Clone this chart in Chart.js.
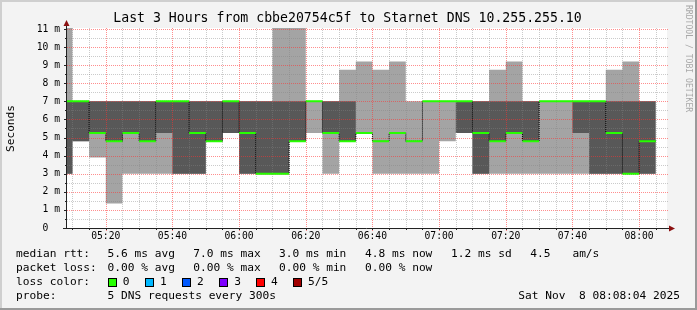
<!DOCTYPE html>
<html><head><meta charset="utf-8">
<script src="https://cdn.jsdelivr.net/npm/chart.js@4.4.0/dist/chart.umd.min.js"></script>
<style>html,body{margin:0;padding:0;background:#f0f0f0}canvas{display:block}</style>
</head><body>
<canvas id="c" width="697" height="310"></canvas>
<script>
// ---- data ----
const stepTimes = ["05:10","05:15","05:20","05:25","05:30","05:35","05:40","05:45","05:50","05:55",
  "06:00","06:05","06:10","06:15","06:20","06:25","06:30","06:35","06:40","06:45","06:50","06:55",
  "07:00","07:05","07:10","07:15","07:20","07:25","07:30","07:35","07:40","07:45","07:50","07:55",
  "08:00","08:05"];
const ping1 = [3,4.8,3.9,1.35,3,3,3,3,3,4.8, 5.25,3,3,3,4.8,5.25,3,4.8,5.25,3,3,3, 3,4.8,5.25,3,3,3,3,3,3,3,3,3, 3,3];
const ping2 = [3,4.8,5.25,4.8,5.25,4.8,5.25,3,3,4.8, 5.25,3,3,3,4.8,7,5.25,4.8,5.25,4.8,5.25,4.8, 7,7,5.25,3,4.8,5.25,4.8,7,7,5.25,3,3, 3,3];
const median = [7,7,5.25,4.8,5.25,4.8,7,7,5.25,4.8, 7,5.25,3,3,4.8,7,5.25,4.8,5.25,4.8,5.25,4.8, 7,7,7,5.25,4.8,5.25,4.8,7,7,7,7,5.25, 3,4.8];
const ping4 = [7,7,7,7,7,7,7,7,7,7, 7,7,7,7,7,7,7,7,5.25,4.8,5.25,4.8, 7,7,7,7,7,7,7,7,7,7,7,7, 7,7];
const ping5 = [11.6,7,7,7,7,7,7,7,7,7, 7,7,7,11.6,11.6,7,7,8.75,9.2,8.75,9.2,7, 7,7,7,7,8.75,9.2,7,7,7,7,7,8.75, 9.2,7];
const xTickLabels = ["05:20","05:40","06:00","06:20","06:40","07:00","07:20","07:40","08:00"];
const yTickValues = [0,1,2,3,4,5,6,7,8,9,10,11];
const windowStart = "05:08:22", windowEnd = "08:08:22";
const yAxisMax = 11.055;

function toMin(s){ const p = s.split(':').map(Number); return p[0]*60 + p[1] + (p[2]||0)/60; }
function stepSeries(vals){
  const pts = vals.map((v,i)=>({x: toMin(stepTimes[i]) - 5, y: v}));
  pts.push({x: toMin(stepTimes[stepTimes.length-1]), y: vals[vals.length-1]});
  return pts;
}
const greenSegs = [];
median.forEach((v,i)=>{ const e = toMin(stepTimes[i]); greenSegs.push({x:e-5,y:v},{x:e,y:v},{x:e,y:null}); });

const MONO = '"DejaVu Sans Mono", monospace';
const STEP = 'before';
const hidden = {borderColor:'transparent', backgroundColor:'transparent', borderWidth:0, pointRadius:0, fill:false, stepped:STEP};

const frame = {
  id:'rrdFrame',
  beforeDraw(chart){
    const ctx = chart.ctx, a = chart.chartArea, W = chart.width, H = chart.height;
    ctx.save();
    ctx.fillStyle = '#f3f3f3'; ctx.fillRect(0,0,W,H);
    ctx.fillStyle = '#cfcfcf'; ctx.fillRect(0,0,W,2); ctx.fillRect(0,0,2,H);
    ctx.fillStyle = '#9a9a9a'; ctx.fillRect(0,H-2,W,2); ctx.fillRect(W-2,0,2,H);
    ctx.fillStyle = '#ffffff'; ctx.fillRect(a.left, a.top, a.right-a.left, a.bottom-a.top);
    ctx.restore();
  },
  afterDatasetDraw(chart, args){
    if (args.index !== 3) return;
    const ctx = chart.ctx, a = chart.chartArea, xs = chart.scales.x, ys = chart.scales.y;
    ctx.save();
    ctx.beginPath(); ctx.rect(a.left, a.top-1, a.right-a.left+2, a.bottom-a.top+5); ctx.clip();
    ctx.lineWidth = 1; ctx.setLineDash([1,1]);
    for (let v = 0.5; v < 11.01; v += 0.5) {
      const y = Math.round(ys.getPixelForValue(v)) + 0.5;
      ctx.strokeStyle = (v % 1 === 0) ? 'rgba(255,50,50,0.55)' : 'rgba(130,130,130,0.42)';
      ctx.beginPath(); ctx.moveTo(a.left, y); ctx.lineTo(a.right+1, y); ctx.stroke();
    }
    for (let t = Math.ceil(xs.min/5)*5; t <= xs.max; t += 5) {
      const x = Math.round(xs.getPixelForValue(t)) + 0.5;
      const major = (t % 20 === 0);
      ctx.strokeStyle = major ? 'rgba(255,50,50,0.55)' : 'rgba(130,130,130,0.42)';
      ctx.beginPath(); ctx.moveTo(x, a.top); ctx.lineTo(x, major ? a.bottom+4 : a.bottom); ctx.stroke();
    }
    ctx.restore();
  },
  afterDraw(chart){
    const ctx = chart.ctx, a = chart.chartArea, xs = chart.scales.x, ys = chart.scales.y;
    ctx.save();
    // axes
    ctx.strokeStyle = '#222'; ctx.lineWidth = 1;
    ctx.beginPath(); ctx.moveTo(a.left-0.5, a.bottom+0.5); ctx.lineTo(a.left-0.5, a.top-4); ctx.stroke();
    ctx.beginPath(); ctx.moveTo(a.left-4, a.bottom+0.5); ctx.lineTo(a.right+3, a.bottom+0.5); ctx.stroke();
    for (let v = 0; v <= 11; v += 0.5) {
      const y = Math.round(ys.getPixelForValue(v)) + 0.5;
      ctx.beginPath(); ctx.moveTo(a.left - (v%1===0 ? 3 : 2), y); ctx.lineTo(a.left, y); ctx.stroke();
    }
    for (let t = Math.ceil(xs.min/5)*5; t <= xs.max; t += 5) {
      const x = Math.round(xs.getPixelForValue(t)) + 0.5;
      ctx.beginPath(); ctx.moveTo(x, a.bottom); ctx.lineTo(x, a.bottom+2); ctx.stroke();
    }
    ctx.fillStyle = '#8b1010';
    ctx.beginPath(); ctx.moveTo(a.left-0.5, a.top-8); ctx.lineTo(a.left-3.5, a.top-2); ctx.lineTo(a.left+2.5, a.top-2); ctx.closePath(); ctx.fill();
    ctx.beginPath(); ctx.moveTo(a.right+8, a.bottom+0.5); ctx.lineTo(a.right+2, a.bottom-2.5); ctx.lineTo(a.right+2, a.bottom+3.5); ctx.closePath(); ctx.fill();

    // title
    ctx.fillStyle = '#000'; ctx.textBaseline = 'middle';
    ctx.font = '13.2px ' + MONO; ctx.textAlign = 'center';
    ctx.fillText('Last 3 Hours from cbbe20754c5f to Starnet DNS 10.255.255.10', 347.5, 19);
    // y unit
    ctx.save(); ctx.translate(11, 128.5); ctx.rotate(-Math.PI/2);
    ctx.font = '11.1px ' + MONO; ctx.fillText('Seconds', 0, 0); ctx.restore();
    // watermark
    ctx.save(); ctx.translate(688.5, 5); ctx.rotate(Math.PI/2);
    ctx.font = '8.1px ' + MONO; ctx.fillStyle = '#a8a8a8'; ctx.textAlign = 'left';
    ctx.fillText('RRDTOOL / TOBI OETIKER', 0, 0); ctx.restore();
    // legend
    ctx.font = '11.2px ' + MONO; ctx.textAlign = 'left'; ctx.fillStyle = '#000';
    const put = (s, x, y) => ctx.fillText(s, x, y);
    put('median rtt:', 16, 254.5); put('5.6 ms avg', 107.6, 254.5); put('7.0 ms max', 193.3, 254.5);
    put('3.0 ms min', 279, 254.5); put('4.8 ms now', 365, 254.5); put('1.2 ms sd', 451, 254.5);
    put('4.5', 530.2, 254.5); put('am/s', 572.4, 254.5);
    put('packet loss:', 16, 268.5); put('0.00 % avg', 107.6, 268.5); put('0.00 % max', 193.3, 268.5);
    put('0.00 % min', 279, 268.5); put('0.00 % now', 365, 268.5);
    put('loss color:', 16, 282.5);
    const lossItems = [['0','#26ff00',108.5,122.7],['1','#00b8ff',145.5,160],['2','#0059ff',182.5,196.9],
                       ['3','#7e00ff',219.5,234.2],['4','#ff0000',256.5,271.1],['5/5','#a10000',293.5,308]];
    lossItems.forEach(([lab,col,bx,tx])=>{
      ctx.fillStyle = col; ctx.fillRect(bx, 278.5, 8, 8);
      ctx.strokeStyle = '#000'; ctx.lineWidth = 1; ctx.strokeRect(bx, 278.5, 8, 8);
      ctx.fillStyle = '#000'; put(lab, tx, 282.5);
    });
    put('probe:', 16, 296.5); put('5 DNS requests every 300s', 107.6, 296.5);
    ctx.textAlign = 'right'; put('Sat Nov  8 08:08:04 2025', 680, 296.5);
    ctx.restore();
  }
};

new Chart(document.getElementById('c'), {
  type: 'line',
  data: { datasets: [
    Object.assign({label:'ping1', data: stepSeries(ping1), order:10}, hidden),
    {label:'ping5', data: stepSeries(ping5), order:9, stepped:STEP, fill:0, backgroundColor:'#a4a4a4', borderColor:'transparent', borderWidth:0, pointRadius:0},
    Object.assign({label:'ping2', data: stepSeries(ping2), order:8}, hidden),
    {label:'ping4', data: stepSeries(ping4), order:7, stepped:STEP, fill:2, backgroundColor:'#585858', borderColor:'transparent', borderWidth:0, pointRadius:0},
    {label:'median', data: stepSeries(median), order:2, stepped:STEP, fill:false, borderColor:'#000', borderWidth:1, borderDash:[1,1], pointRadius:0},
    {label:'loss0', data: greenSegs, order:1, fill:false, borderColor:'#26ff00', borderWidth:2, pointRadius:0, spanGaps:false, borderCapStyle:'butt'}
  ]},
  options: {
    responsive:false, animation:false, devicePixelRatio:1,
    layout: { padding: {top:28, right:30, left:0, bottom:0} },
    plugins: { legend:{display:false}, title:{display:false}, tooltip:{enabled:false} },
    scales: {
      x: { type:'linear', min: toMin(windowStart), max: toMin(windowEnd),
        grid:{display:false, drawTicks:false}, border:{display:false},
        afterBuildTicks: s => { s.ticks = xTickLabels.map(l => ({value: toMin(l)})); },
        afterFit: s => { s.height = 82; },
        ticks:{ autoSkip:false, maxRotation:0, padding:3, color:'#000',
          font:{family:'DejaVu Sans Mono', size:9.7},
          callback: (v, i) => xTickLabels[i] } },
      y: { type:'linear', min:0, max:yAxisMax,
        grid:{display:false, drawTicks:false}, border:{display:false},
        afterBuildTicks: s => { s.ticks = yTickValues.map(v => ({value: v})); },
        afterFit: s => { s.width = 67; },
        ticks:{ autoSkip:false, padding:7, color:'#000',
          font:{family:'DejaVu Sans Mono', size:9.7},
          callback: v => v === 0 ? '0  ' : v + ' m' } }
    }
  },
  plugins: [frame]
});
</script>
</body></html>
